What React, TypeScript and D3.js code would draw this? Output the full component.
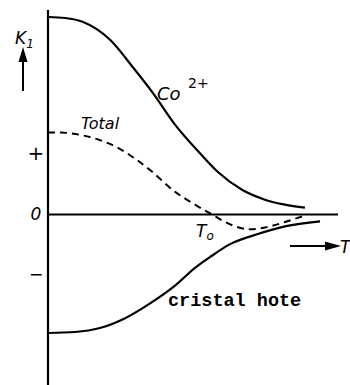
import React from 'react'
import * as d3 from 'd3'

// temperature (arbitrary units) and K1 values
const coX = [0, 0.59, 1.21, 2.14, 2.93, 3.62, 4.38, 5.24, 5.86, 6.69, 7.48, 8.17, 8.86]
const coY = [2.0, 1.99, 1.95, 1.77, 1.49, 1.23, 0.91, 0.62, 0.43, 0.25, 0.15, 0.1, 0.07]

const totalX = [0, 0.41, 1.21, 2.38, 3.52, 4.38, 5.07, 5.66, 6.28, 6.97, 7.66, 8.34, 8.86]
const totalY = [0.83, 0.83, 0.8, 0.68, 0.45, 0.23, 0.1, 0.0, -0.1, -0.15, -0.12, -0.06, -0.01]

const hostX = [0, 0.93, 1.79, 2.66, 3.52, 4.38, 5.07, 5.59, 6.28, 7.21, 8.17, 9.38]
const hostY = [-1.2, -1.19, -1.15, -1.05, -0.9, -0.72, -0.54, -0.43, -0.3, -0.2, -0.12, -0.07]

const tickValues = [0.62, 0, -0.6]
const tickLabels = ['+', '0', '−']

const W = 350
const H = 385

export default function App() {
  const x = d3.scaleLinear().domain([0, 10]).range([48, 338])
  const y = d3.scaleLinear().domain([-1.2, 2.0]).range([333, 17])

  const line = (xs: number[], ys: number[]) =>
    d3.line<number>()
      .x((_, i) => x(xs[i]))
      .y(d => y(d))
      .curve(d3.curveMonotoneX)(ys) || ''

  const font = "'DejaVu Sans', sans-serif"

  return (
    <svg width={W} height={H} style={{position: 'absolute', left: 0, top: 0, background: '#fff'}}>
      {/* vertical axis */}
      <line x1={x(0)} x2={x(0)} y1={10} y2={H} stroke="#000" strokeWidth={2.2} />
      {/* zero line */}
      <line x1={x(0)} x2={x(10)} y1={y(0)} y2={y(0)} stroke="#000" strokeWidth={2} />

      {/* curves */}
      <path d={line(coX, coY)} fill="none" stroke="#000" strokeWidth={2.2} />
      <path d={line(totalX, totalY)} fill="none" stroke="#000" strokeWidth={2} strokeDasharray="7,5" />
      <path d={line(hostX, hostY)} fill="none" stroke="#000" strokeWidth={2.2} />

      {/* tick labels */}
      {tickValues.map((v, i) => (
        <text key={i} x={36} y={y(v)} dy="0.35em" textAnchor="middle"
          fontFamily={font} fontSize={i === 0 ? 20 : 17} fontStyle={i === 1 ? 'italic' : 'normal'}>
          {tickLabels[i]}
        </text>
      ))}

      {/* K1 label + arrow */}
      <text x={15} y={44} fontFamily={font} fontStyle="italic" fontSize={17}>
        K<tspan fontSize={12} dy={4}>1</tspan>
      </text>
      <line x1={23} x2={23} y1={91} y2={58} stroke="#000" strokeWidth={2} />
      <path d="M23,47 L18.5,62 L27.5,62 Z" fill="#000" />

      {/* T arrow */}
      <line x1={290} x2={330} y1={246} y2={246} stroke="#000" strokeWidth={2} />
      <path d="M341,246 L325,241.5 L325,250.5 Z" fill="#000" />
      <text x={340} y={253} fontFamily={font} fontStyle="italic" fontSize={17}>T</text>

      {/* T0 */}
      <text x={196} y={237} fontFamily={font} fontStyle="italic" fontSize={17}>
        T<tspan fontSize={12} dy={3}>o</tspan>
      </text>

      {/* series labels */}
      <text x={157} y={100} fontFamily={font} fontStyle="italic" fontSize={18}>Co</text>
      <text x={188} y={88} fontFamily={font} fontSize={14}>2+</text>
      <text x={81} y={129} fontFamily={font} fontStyle="italic" fontSize={16}>Total</text>
      <text x={168} y={306} fontFamily="'Liberation Mono', monospace" fontWeight="bold" fontSize={18.5}>
        cristal hote
      </text>
    </svg>
  )
}
